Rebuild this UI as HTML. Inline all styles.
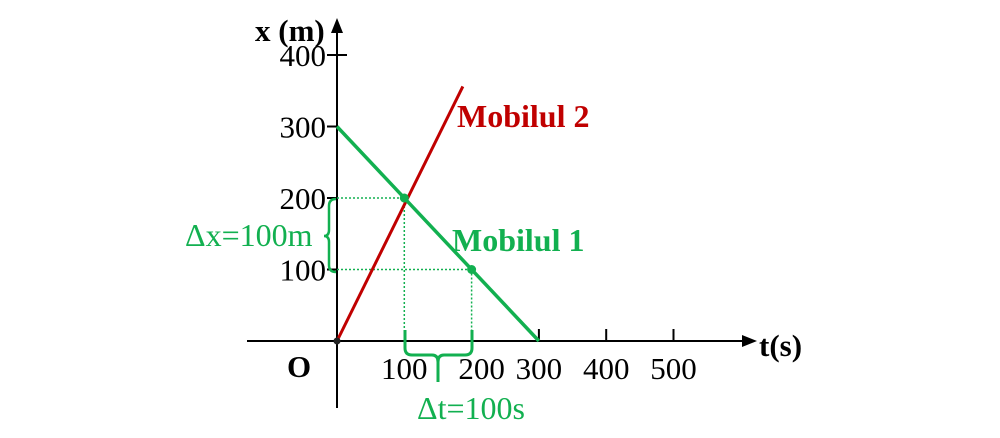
<!DOCTYPE html>
<html><head><meta charset="utf-8"><style>
html,body{margin:0;padding:0;background:#fff;}
svg{display:block;font-family:"Liberation Serif",serif;}
</style></head><body>
<svg id="chart" width="1000" height="438" viewBox="0 0 1000 438" xmlns="http://www.w3.org/2000/svg">
<g id="axes">
  <line x1="247" y1="341" x2="746" y2="341" stroke="#000" stroke-width="2"/>
  <polygon points="757,341 742,335 742,347" fill="#000"/>
  <line x1="337" y1="408" x2="337" y2="30" stroke="#000" stroke-width="2"/>
  <polygon points="337,18 331,33 343,33" fill="#000"/>
  <text x="255" y="41" font-size="31" font-weight="bold">x (m)</text>
  <text x="759" y="356" font-size="31" font-weight="bold">t(s)</text>
  <text x="287" y="377" font-size="31" font-weight="bold">O</text>
</g>
<g id="ticks"></g>
<g id="marks"></g>
<g id="annot">
  <path d="M336,199 Q329,199 329,206 L329,230 Q329,236 324,236 Q329,236 329,242 L329,265 Q329,272 336,272" fill="none" stroke="#12b050" stroke-width="2.5"/>
  <text x="185" y="246" font-size="32" fill="#12b050">Δx=100m</text>
  <path d="M405,330 L405,348 Q405,355 412,355 L432,355 Q438,355 438,362 L438,382 M438,362 Q438,355 444,355 L465,355 Q472,355 472,348 L472,330" fill="none" stroke="#12b050" stroke-width="3"/>
  <text x="417" y="419" font-size="32" fill="#12b050">Δt=100s</text>
  <text x="457" y="127" font-size="32" font-weight="bold" fill="#c00000">Mobilul 2</text>
  <text x="452" y="251" font-size="32" font-weight="bold" fill="#12b050">Mobilul 1</text>
</g>
</svg>
<script>
const xTicks=[300,400,500];
const xTickLabels=[100,200,300,400,500];
const yTicks=[100,200,300,400];
const mobil1T=[0,300];
const mobil1X=[300,0];
const mobil2T=[0,187];
const mobil2X=[0,356];
const pointsT=[100,200];
const pointsX=[200,100];
const NS="http://www.w3.org/2000/svg";
function sx(t){return 337+t*0.673;}
function sy(x){return 341-x*0.715;}
function mk(tag,attrs,parent){const e=document.createElementNS(NS,tag);for(const k in attrs)e.setAttribute(k,attrs[k]);parent.appendChild(e);return e;}
const ticks=document.getElementById('ticks');
const marks=document.getElementById('marks');
xTicks.forEach(t=>{
  const l=mk('line',{x1:sx(t),x2:sx(t),y1:329,y2:341,stroke:'#000','stroke-width':2},ticks);
  
  
});
xTickLabels.forEach((t,i)=>{
  const off=(t===200)?10:0;
  const tx=mk('text',{x:sx(t)+off,y:379,'font-size':31,'text-anchor':'middle'},ticks);
  tx.textContent=t;
  
  
});
yTicks.forEach(v=>{
  const l=mk('line',{x1:327,x2:(v===400?347:337),y1:sy(v),y2:sy(v),stroke:'#000','stroke-width':2},ticks);
  
  
  const tx=mk('text',{x:326,y:sy(v)+11,'font-size':31,'text-anchor':'end'},ticks);
  tx.textContent=v;
  
  
});
pointsT.forEach((t,i)=>{
  const h=mk('line',{x1:337,x2:sx(t),y1:sy(pointsX[i]),y2:sy(pointsX[i]),stroke:'#12b050','stroke-width':1.5,'stroke-dasharray':'2,2'},marks);
  
  
  const v=mk('line',{x1:sx(t),x2:sx(t),y1:sy(pointsX[i]),y2:341,stroke:'#12b050','stroke-width':1.5,'stroke-dasharray':'2,2'},marks);
  
  
});
const l2=mk('line',{x1:sx(mobil2T[0]),y1:sy(mobil2X[0]),x2:sx(mobil2T[1]),y2:sy(mobil2X[1]),stroke:'#c00000','stroke-width':3},marks);


const l1=mk('line',{x1:sx(mobil1T[0]),y1:sy(mobil1X[0]),x2:sx(mobil1T[1]),y2:sy(mobil1X[1]),stroke:'#12b050','stroke-width':3.5},marks);


pointsT.forEach((t,i)=>{
  const c=mk('circle',{cx:sx(t),cy:sy(pointsX[i]),r:4.5,fill:'#12b050'},marks);
  
  
});
const o=mk('circle',{cx:337,cy:341,r:3.5,fill:'#222'},marks);


</script>
</body></html>
